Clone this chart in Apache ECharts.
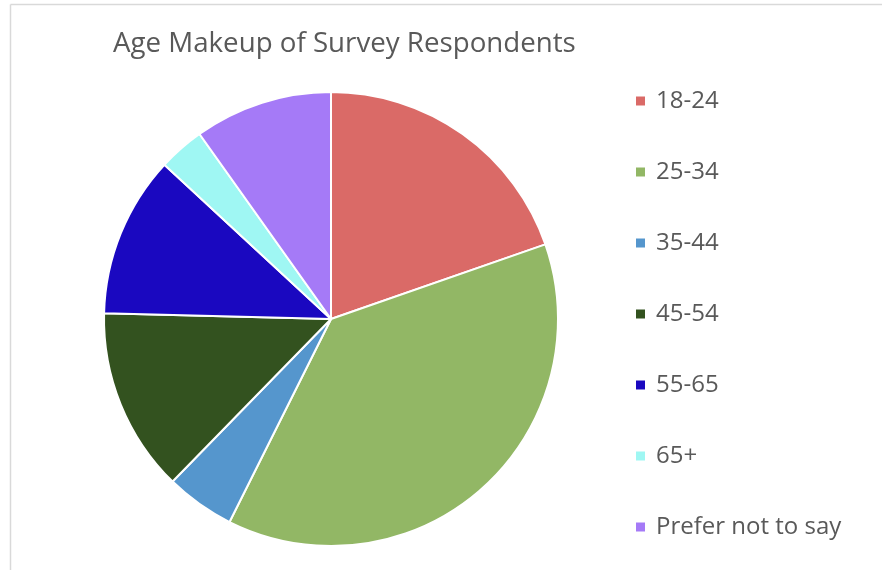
<!DOCTYPE html>
<html><head><meta charset="utf-8">
<script src="https://cdn.jsdelivr.net/npm/echarts@6/dist/echarts.min.js"></script>
<style>html,body{margin:0;padding:0;background:#fff}#c{width:882px;height:570px}</style>
</head><body><div id="c"></div>
<script>
const categories = ['18-24','25-34','35-44','45-54','55-65','65+','Prefer not to say'];
const counts = [12,23,3,8,7,2,6];
const colors = ['#DA6A67','#92B765','#5596CD','#33521F','#1A08C0','#9FF7F3','#A57AF7'];

const chart = echarts.init(document.getElementById('c'), null, {renderer:'canvas'});
chart.setOption({
  backgroundColor:'#fff',
  animation:false,
  title:{text:'Age Makeup of Survey Respondents', left:108, top:25,
    textStyle:{fontFamily:'Open Sans', fontSize:27.7, fontWeight:'normal', color:'#595959'}},
  legend:{orient:'vertical', left:629, top:84, itemWidth:11, itemHeight:11, itemGap:47,
    icon:'rect', data:categories,
    textStyle:{fontFamily:'Open Sans', fontSize:24, color:'#595959', lineHeight:24, padding:[0,0,0,5]}},
  graphic:[
    {type:'line', shape:{x1:10.5,y1:4.5,x2:882,y2:4.5}, style:{stroke:'#d9d9d9',lineWidth:1.5}, silent:true},
    {type:'line', shape:{x1:10.5,y1:4.5,x2:10.5,y2:570}, style:{stroke:'#d9d9d9',lineWidth:1.5}, silent:true}
  ],
  series:[{
    type:'pie', center:[331,319], radius:227, startAngle:90, clockwise:true,
    label:{show:false}, labelLine:{show:false},
    itemStyle:{borderColor:'#fff', borderWidth:2},
    emphasis:{disabled:true},
    data:categories.map((n,i)=>({name:n, value:counts[i], itemStyle:{color:colors[i]}}))
  }]
});
</script></body></html>
